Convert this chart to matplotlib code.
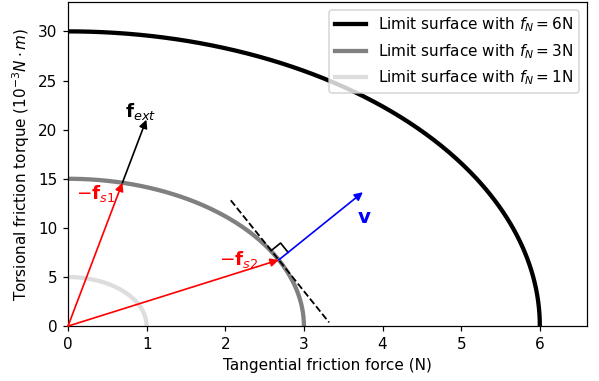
import numpy as np
import matplotlib
matplotlib.use("Agg")
import matplotlib.pyplot as plt

# limit surfaces: max tangential force (N) and max torque (1e-3 N*m)
normal_forces = [6, 3, 1]
max_force = [6.0, 3.0, 1.0]
max_torque = [30.0, 15.0, 5.0]
surface_colors = ["black", "gray", "#dddddd"]

# contact points on the fN=3N surface (angle in the ellipse parameter, rad)
t_s1 = 1.338
t_s2 = 0.466
fext_scale = 1.44   # f_ext tip relative to -f_s1
v_len = 108         # length of v on screen (px)

DPI = 110
fig = plt.figure(figsize=(599 / DPI, 381 / DPI), dpi=DPI)
ax = fig.add_axes([0.1135, 0.144, 0.8665, 0.851])
ax.set_xlim(0, 6.6)
ax.set_ylim(0, 33)

t = np.linspace(0, np.pi / 2, 300)
for fn, a, b, c in zip(normal_forces, max_force, max_torque, surface_colors):
    ax.plot(a * np.cos(t), b * np.sin(t), color=c, lw=2.8,
            label="Limit surface with $f_N = %d$N" % fn)

a, b = max_force[1], max_torque[1]
arrow_kw = dict(arrowstyle="-|>", lw=1.1, mutation_scale=11, shrinkA=0, shrinkB=0)

# -f_s1 and f_ext
p1 = np.array([a * np.cos(t_s1), b * np.sin(t_s1)])
ax.annotate("", xy=p1, xytext=(0, 0), arrowprops=dict(color="red", **arrow_kw))
ax.annotate("", xy=p1 * fext_scale, xytext=p1, arrowprops=dict(color="black", **arrow_kw))
ax.text(0.72, 21.3, r"$\mathbf{f}_{ext}$", fontsize=12, color="black")
ax.text(0.1, 12.9, r"$-\mathbf{f}_{s1}$", fontsize=12, color="red")

# -f_s2, tangent and v
p2 = np.array([a * np.cos(t_s2), b * np.sin(t_s2)])
ax.annotate("", xy=p2, xytext=(0, 0), arrowprops=dict(color="red", **arrow_kw))
ax.text(1.92, 6.2, r"$-\mathbf{f}_{s2}$", fontsize=12, color="red")

# pixel scale of the axes so that v is perpendicular on screen
fig.canvas.draw()
px = ax.transData.transform([[0, 0], [1, 1]])
sx, sy = px[1] - px[0]
tan_d = np.array([-a * np.sin(t_s2), b * np.cos(t_s2)])
tan_px = tan_d * [sx, sy]
tan_px /= np.hypot(*tan_px)
nor_px = np.array([tan_px[1], -tan_px[0]])

# dashed tangent line
xs = np.array([2.07, 3.32])
ax.plot(xs, p2[1] + (xs - p2[0]) * tan_d[1] / tan_d[0], "k--", lw=1.2)

v_tip = p2 + nor_px / [sx, sy] * v_len
ax.annotate("", xy=v_tip, xytext=p2, arrowprops=dict(color="blue", **arrow_kw))
ax.text(3.68, 10.5, r"$\mathbf{v}$", fontsize=13, color="blue")

# right-angle mark
sq = 12
c1 = p2 + tan_px * sq / [sx, sy]
c2 = c1 + nor_px * sq / [sx, sy]
c3 = p2 + nor_px * sq / [sx, sy]
ax.plot([c1[0], c2[0], c3[0]], [c1[1], c2[1], c3[1]], color="black", lw=1.1)

ax.set_xlabel("Tangential friction force (N)")
ax.set_ylabel(r"Torsional friction torque ($10^{-3} N \cdot m$)")
ax.legend(loc="upper right")

fig.savefig("out.png", dpi=DPI)
